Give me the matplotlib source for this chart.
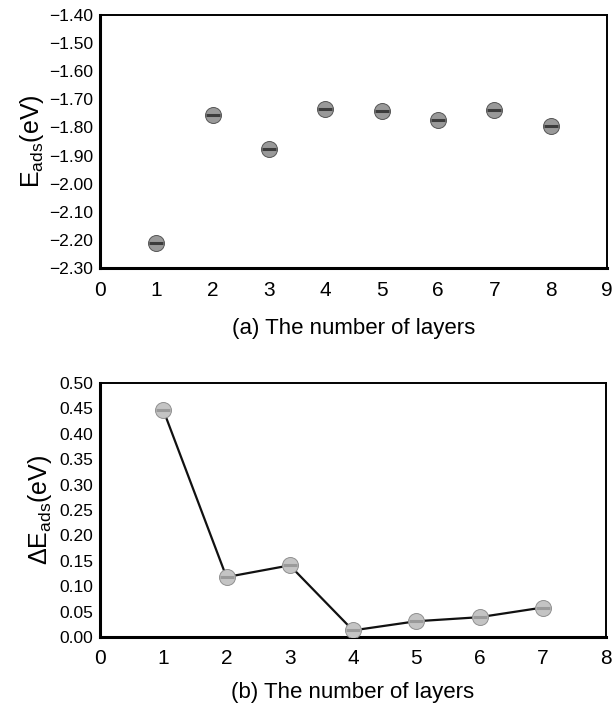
import matplotlib.pyplot as plt

plt.rcParams['font.family'] = ['Liberation Sans', 'DejaVu Sans']

# layer counts and adsorption energies (eV)
layers_a = [1, 2, 3, 4, 5, 6, 7, 8]
e_ads = [-2.21, -1.756, -1.877, -1.733, -1.742, -1.775, -1.737, -1.794]

# differences between neighbouring layers (eV)
layers_b = [1, 2, 3, 4, 5, 6, 7]
d_e_ads = [0.447, 0.118, 0.141, 0.013, 0.031, 0.039, 0.058]

yticks_a = [-1.40, -1.50, -1.60, -1.70, -1.80, -1.90, -2.00, -2.10, -2.20, -2.30]
yticks_b = [0.00, 0.05, 0.10, 0.15, 0.20, 0.25, 0.30, 0.35, 0.40, 0.45, 0.50]

fig = plt.figure(figsize=(6.14, 7.06), dpi=100)
ax1 = fig.add_axes([100 / 614, 1 - 268 / 706, 507 / 614, 253 / 706])
ax2 = fig.add_axes([100 / 614, 1 - 637 / 706, 506 / 614, 254 / 706])


def sphere(ax, x, y, base, band, edge):
    # fake shaded ball: grey body with a darker band across the middle
    ax.plot(x, y, 'o', ms=11.5, mfc=base, mec=edge, mew=0.7, zorder=3)
    ax.plot(x, y, '_', ms=10.5, mec=band, mew=2.2, zorder=4)


def fmt(v):
    return ('%.2f' % v).replace('-', '\u2212')


def style(ax):
    for s in ['left', 'bottom']:
        ax.spines[s].set_linewidth(2.2)
    for s in ['top', 'right']:
        ax.spines[s].set_linewidth(1.4)
    ax.tick_params(length=0)
    ax.tick_params(axis='x', labelsize=15, pad=9)
    ax.tick_params(axis='y', labelsize=12.5, pad=5)


sphere(ax1, layers_a, e_ads, '#999999', '#3c3c3c', '#555555')
ax1.set_xlim(0, 9)
ax1.set_ylim(-2.30, -1.40)
ax1.set_xticks(range(0, 10))
ax1.set_yticks(yticks_a)
ax1.set_yticklabels([fmt(v) for v in yticks_a])
ax1.set_xlabel('(a) The number of layers', fontsize=16, labelpad=13)
ax1.set_ylabel(r'E$_{\mathregular{ads}}$(eV)', fontsize=18, labelpad=2)
style(ax1)

ax2.plot(layers_b, d_e_ads, '-', color='#111111', lw=1.6, zorder=2)
sphere(ax2, layers_b, d_e_ads, '#c4c4c4', '#9a9a9a', '#909090')
ax2.set_xlim(0, 8)
ax2.set_ylim(0, 0.50)
ax2.set_xticks(range(0, 9))
ax2.set_yticks(yticks_b)
ax2.set_yticklabels([fmt(v) for v in yticks_b])
ax2.set_xlabel('(b) The number of layers', fontsize=16, labelpad=10)
ax2.set_ylabel(r'$\mathregular{\Delta}$E$_{\mathregular{ads}}$(eV)', fontsize=18, labelpad=4)
style(ax2)

fig.savefig('out.png', dpi=100)
